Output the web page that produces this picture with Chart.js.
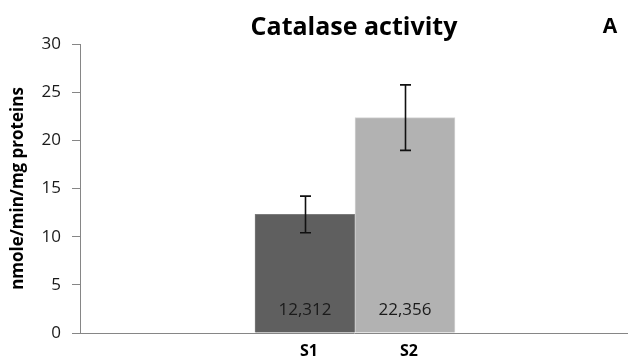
<!DOCTYPE html>
<html>
<head>
<meta charset="utf-8">
<script src="https://cdn.jsdelivr.net/npm/chart.js@4/dist/chart.umd.min.js"></script>
<style>
  html, body { margin: 0; padding: 0; background: #fff; }
  #wrap { width: 628px; height: 362px; }
</style>
</head>
<body>
<div id="wrap"><canvas id="c" width="628" height="362"></canvas></div>
<script>
// Catalase activity per sample (nmole/min/mg proteins)
const samples = ['S1', 'S2'];
const samplePositions = [1, 2];
const activity = [12.312, 22.356];
const activityLabels = ['12,312', '22,356'];
const activityError = [1.9, 3.4];
const yTickValues = [0, 5, 10, 15, 20, 25, 30];

const FONT = '"Open Sans", Lato, sans-serif';

// Vertical error bars with caps, drawn over each bar
const errorBars = {
  id: 'errorBars',
  afterDatasetsDraw(chart) {
    const ctx = chart.ctx;
    const yScale = chart.scales.y;
    const meta = chart.getDatasetMeta(0);
    ctx.save();
    ctx.strokeStyle = '#111';
    ctx.lineWidth = 1.6;
    meta.data.forEach((bar, i) => {
      const x = Math.round(bar.x) + 0.5;
      const top = yScale.getPixelForValue(activity[i] + activityError[i]);
      const bot = yScale.getPixelForValue(activity[i] - activityError[i]);
      const cap = 5.5;
      ctx.beginPath();
      ctx.moveTo(x, top); ctx.lineTo(x, bot);
      ctx.moveTo(x - cap, top); ctx.lineTo(x + cap, top);
      ctx.moveTo(x - cap, bot); ctx.lineTo(x + cap, bot);
      ctx.stroke();
    });
    ctx.restore();
  }
};

// Value labels near the base of each bar, plus the panel letter
const barLabels = {
  id: 'barLabels',
  afterDatasetsDraw(chart) {
    const ctx = chart.ctx;
    const yScale = chart.scales.y;
    const meta = chart.getDatasetMeta(0);
    ctx.save();
    ctx.font = '17px ' + FONT;
    ctx.fillStyle = '#1a1a1a';
    ctx.textAlign = 'center';
    ctx.textBaseline = 'middle';
    meta.data.forEach((bar, i) => {
      ctx.fillText(activityLabels[i], bar.x, yScale.getPixelForValue(0) - 23);
    });
    ctx.font = 'bold 21px ' + FONT;
    ctx.fillStyle = '#000';
    ctx.fillText('A', 610, 27);
    ctx.restore();
  }
};

new Chart(document.getElementById('c'), {
  type: 'bar',
  data: {
    datasets: [{
      data: samplePositions.map((x, i) => ({ x: x, y: activity[i] })),
      backgroundColor: ['#5f5f5f', '#b2b2b2'],
      borderColor: ['#7c7c7c', '#d4d4d4'],
      borderWidth: 1,
      barPercentage: 1,
      categoryPercentage: 1
    }]
  },
  options: {
    responsive: false,
    animation: false,
    layout: { padding: 0 },
    plugins: {
      legend: { display: false },
      tooltip: { enabled: false },
      title: {
        display: true,
        text: 'Catalase activity',
        fullSize: false,
        color: '#000',
        font: { family: FONT, size: 25, weight: 'bold' },
        padding: { top: 13, bottom: 1 }
      }
    },
    scales: {
      x: {
        type: 'linear',
        offset: false,
        bounds: 'data',
        min: -1.25,
        max: 4.23,
        afterBuildTicks: s => { s.ticks = samplePositions.map(v => ({ value: v })); },
        afterFit: s => { s.height = 29; },
        ticks: {
          autoSkip: false,
          maxRotation: 0,
          labelOffset: 4,
          padding: 9,
          color: '#000',
          font: { family: FONT, size: 16, weight: 'bold' },
          callback: v => { const k = samplePositions.indexOf(v); return k >= 0 ? samples[k] : ''; }
        },
        grid: { display: false, drawTicks: false },
        border: { color: '#868686', width: 1 }
      },
      y: {
        min: 0,
        max: 30,
        afterBuildTicks: s => { s.ticks = yTickValues.map(v => ({ value: v })); },
        afterFit: s => { s.width = 80; },
        ticks: {
          padding: 11,
          color: '#1a1a1a',
          font: { family: FONT, size: 17 }
        },
        grid: { drawOnChartArea: false, tickLength: 8, color: '#868686' },
        border: { color: '#868686', width: 1 },
        title: {
          display: true,
          text: 'nmole/min/mg proteins',
          color: '#000',
          font: { family: FONT, size: 17, weight: 'bold' },
          padding: { top: 8, bottom: 0 }
        }
      }
    }
  },
  plugins: [errorBars, barLabels]
});
</script>
</body>
</html>
